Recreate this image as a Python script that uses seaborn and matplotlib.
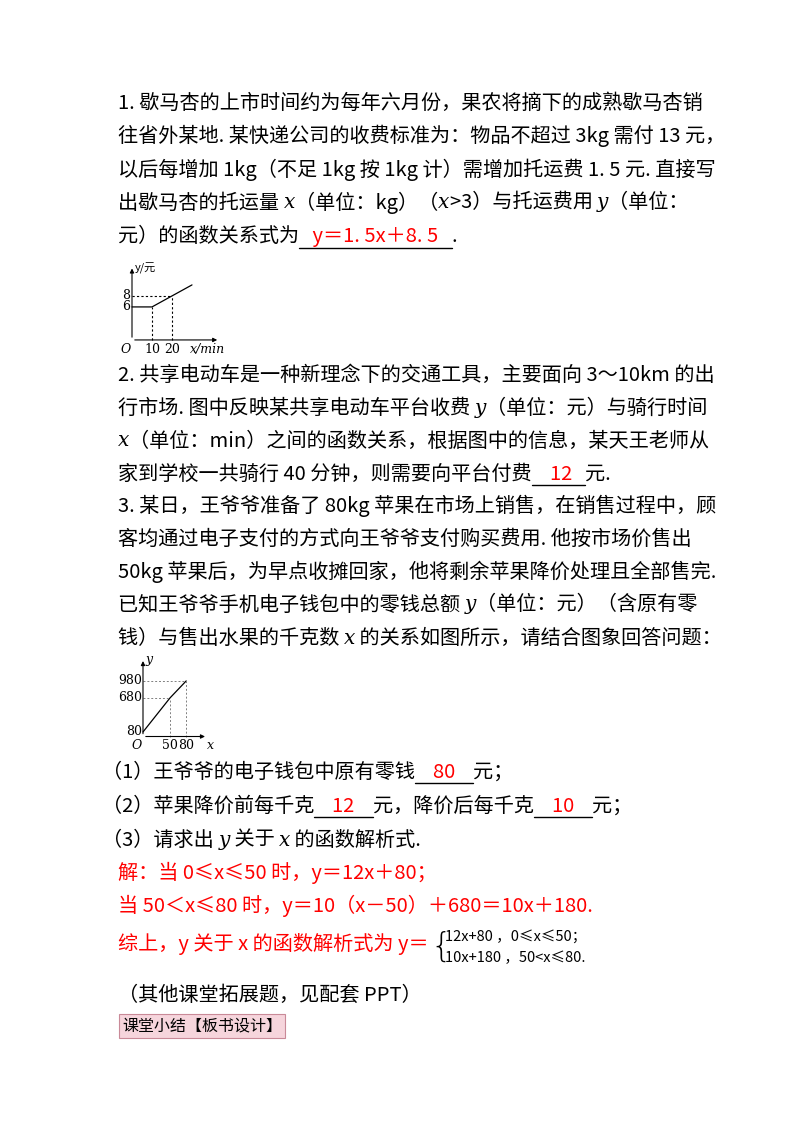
import re
import matplotlib
matplotlib.use("Agg")
import matplotlib.pyplot as plt
import seaborn as sns
import pandas as pd

sns.set_theme(style="white")
plt.rcParams['font.family'] = ['Noto Sans CJK SC', 'DejaVu Sans']

# ---- data ----
fee_minutes = [0, 10, 20, 30]
fee_yuan = [6, 6, 8, 10]
fee_xticks = [10, 20]
fee_yticks = [6, 8]
apple_kg = [0, 50, 80]
apple_money = [80, 680, 980]
apple_xticks = [50, 80]
apple_yticks = [80, 680, 980]

W, H = 800, 1132
fig = plt.figure(figsize=(W/100, H/100), dpi=100)
fig.patch.set_facecolor("white")
ren = fig.canvas.get_renderer()
FS = 14.5

def fy(y): return 1 - y/H

def line(x, y, markup, fs=FS, base='black'):
    parts = re.split(r'(\{[rui]:[^}]*\})', markup)
    cx = x
    for p in parts:
        if not p: continue
        color, ul, ital = base, False, False
        m = re.match(r'\{([rui]):(.*)\}', p)
        if m:
            k, p = m.group(1), m.group(2)
            if k in 'ru': color = 'red'
            if k == 'u': ul = True
            if k == 'i': ital = True
        kw = dict(fontsize=fs, color=color, va='center', ha='left')
        if ital:
            kw.update(family=['DejaVu Serif'], style='italic')
        t = fig.text(cx/W, fy(y), p, **kw)
        bb = t.get_window_extent(ren)
        if ul:
            fig.add_artist(plt.Line2D([cx/W, (cx+bb.width)/W], [fy(y+11), fy(y+11)],
                                      color='black', lw=1))
        cx += bb.width
    return cx

lines = [
    (118, 103, "1. 歇马杏的上市时间约为每年六月份，果农将摘下的成熟歇马杏销"),
    (118, 136, "往省外某地. 某快递公司的收费标准为：物品不超过 3kg 需付 13 元，"),
    (118, 170, "以后每增加 1kg（不足 1kg 按 1kg 计）需增加托运费 1. 5 元. 直接写"),
    (118, 203, "出歇马杏的托运量 {i:x}（单位：kg）（{i:x}>3）与托运费用 {i:y}（单位："),
    (118, 237, "元）的函数关系式为{u:   y＝1. 5x＋8. 5   }."),
    (118, 375, "2. 共享电动车是一种新理念下的交通工具，主要面向 3～10km 的出"),
    (118, 408, "行市场. 图中反映某共享电动车平台收费 {i:y}（单位：元）与骑行时间"),
    (118, 441, "{i:x}（单位：min）之间的函数关系，根据图中的信息，某天王老师从"),
    (118, 474, "家到学校一共骑行 40 分钟，则需要向平台付费{u:    12   }元."),
    (118, 506, "3. 某日，王爷爷准备了 80kg 苹果在市场上销售，在销售过程中，顾"),
    (118, 539, "客均通过电子支付的方式向王爷爷支付购买费用. 他按市场价售出"),
    (118, 572, "50kg 苹果后，为早点收摊回家，他将剩余苹果降价处理且全部售完."),
    (118, 605, "已知王爷爷手机电子钱包中的零钱总额 {i:y}（单位：元）（含原有零"),
    (118, 638, "钱）与售出水果的千克数 {i:x} 的关系如图所示，请结合图象回答问题："),
    (102, 772, "（1）王爷爷的电子钱包中原有零钱{u:    80    }元；"),
    (102, 806, "（2）苹果降价前每千克{u:    12    }元，降价后每千克{u:    10    }元；"),
    (102, 840, "（3）请求出 {i:y} 关于 {i:x} 的函数解析式."),
    (118, 995, "（其他课堂拓展题，见配套 PPT）"),
]
for x, y, s in lines:
    line(x, y, s)
line(118, 873, "解：当 0≤x≤50 时，y＝12x＋80；", base='red')
line(118, 906, "当 50＜x≤80 时，y＝10（x－50）＋680＝10x＋180.", base='red')
end = line(118, 944, "综上，y 关于 x 的函数解析式为 y＝", base='red')
fig.text((end + 2)/W, fy(947), "{", fontsize=24, va='center', ha='left', color='black',
         family=['DejaVu Sans'], fontweight='light')
fig.text((end + 16)/W, fy(937), "12x+80 ，0≤x≤50；", fontsize=10.5, va='center', color='black')
fig.text((end + 16)/W, fy(958), "10x+180 ，50<x≤80.", fontsize=10.5, va='center', color='black')
fig.text(122/W, fy(1026), "课堂小结【板书设计】", fontsize=11.5, va='center', color='black',
         bbox=dict(boxstyle='square,pad=0.2', fc='#f6d5dc', ec='#c98a98', lw=0.8))

def setup(ax):
    ax.set_axis_off()
    ax.set_facecolor('none')

TF = 9
# ---- chart 1 ----
x0, x1, y0, y1 = 122, 226, 264, 346
ax1 = fig.add_axes([x0/W, fy(y1), (x1-x0)/W, (y1-y0)/H])
ax1.set_xlim(-5, 47); ax1.set_ylim(-1.1, 13.8)
setup(ax1)
df1 = pd.DataFrame({"t": fee_minutes, "c": fee_yuan})
sns.lineplot(data=df1, x="t", y="c", ax=ax1, color='black', lw=0.9, sort=False)
ax1.annotate("", xy=(44, 0), xytext=(0, 0), arrowprops=dict(arrowstyle='-|>', lw=0.8, color='black', mutation_scale=6))
ax1.annotate("", xy=(0, 13.5), xytext=(0, 0), arrowprops=dict(arrowstyle='-|>', lw=0.8, color='black', mutation_scale=6))
for xv, yv in zip(fee_minutes[1:3], fee_yuan[1:3]):
    ax1.plot([xv, xv], [0, yv], ls=(0, (2, 2)), color='black', lw=0.8)
ax1.plot([0, 20], [8, 8], ls=(0, (2, 2)), color='black', lw=0.8)
for t in fee_xticks:
    ax1.text(t, -0.6, str(t), ha='center', va='top', fontsize=TF, family='DejaVu Serif', color='black')
for t in fee_yticks:
    ax1.text(-0.7, t, str(t), ha='right', va='center', fontsize=TF, family='DejaVu Serif', color='black')
ax1.text(-0.8, -0.6, "O", ha='right', va='top', fontsize=TF, style='italic', family='DejaVu Serif', color='black')
ax1.text(1.2, 13.0, "y/元", ha='left', va='center', fontsize=8, color='black')
ax1.text(29, -0.6, "x/min", ha='left', va='top', fontsize=TF, style='italic', family='DejaVu Serif', color='black')

# ---- chart 2 ----
x0, x1, y0, y1 = 118, 214, 655, 750
ax2 = fig.add_axes([x0/W, fy(y1), (x1-x0)/W, (y1-y0)/H])
ax2.set_xlim(-46.3, 131.5); ax2.set_ylim(-238, 1437)
setup(ax2)
df2 = pd.DataFrame({"kg": apple_kg, "m": apple_money})
sns.lineplot(data=df2, x="kg", y="m", ax=ax2, color='black', lw=0.9, sort=False)
ax2.annotate("", xy=(120, 0), xytext=(0, 0), arrowprops=dict(arrowstyle='-|>', lw=0.8, color='black', mutation_scale=6))
ax2.annotate("", xy=(0, 1380), xytext=(0, 0), arrowprops=dict(arrowstyle='-|>', lw=0.8, color='black', mutation_scale=6))
for xv, yv in zip(apple_kg[1:], apple_money[1:]):
    ax2.plot([xv, xv], [0, yv], ls=(0, (2, 2)), color='gray', lw=0.7)
    ax2.plot([0, xv], [yv, yv], ls=(0, (2, 2)), color='gray', lw=0.7)
for t in apple_xticks:
    ax2.text(t, -40, str(t), ha='center', va='top', fontsize=TF, family='DejaVu Serif', color='black')
for t in apple_yticks:
    ax2.text(-2, t, str(t), ha='right', va='center', fontsize=TF, family='DejaVu Serif', color='black')
ax2.text(-3, -40, "O", ha='right', va='top', fontsize=TF, style='italic', family='DejaVu Serif', color='black')
ax2.text(4, 1360, "y", ha='left', va='center', fontsize=TF, style='italic', family='DejaVu Serif', color='black')
ax2.text(118, -40, "x", ha='left', va='top', fontsize=TF, style='italic', family='DejaVu Serif', color='black')

fig.savefig("out.png", dpi=100, facecolor='white')
